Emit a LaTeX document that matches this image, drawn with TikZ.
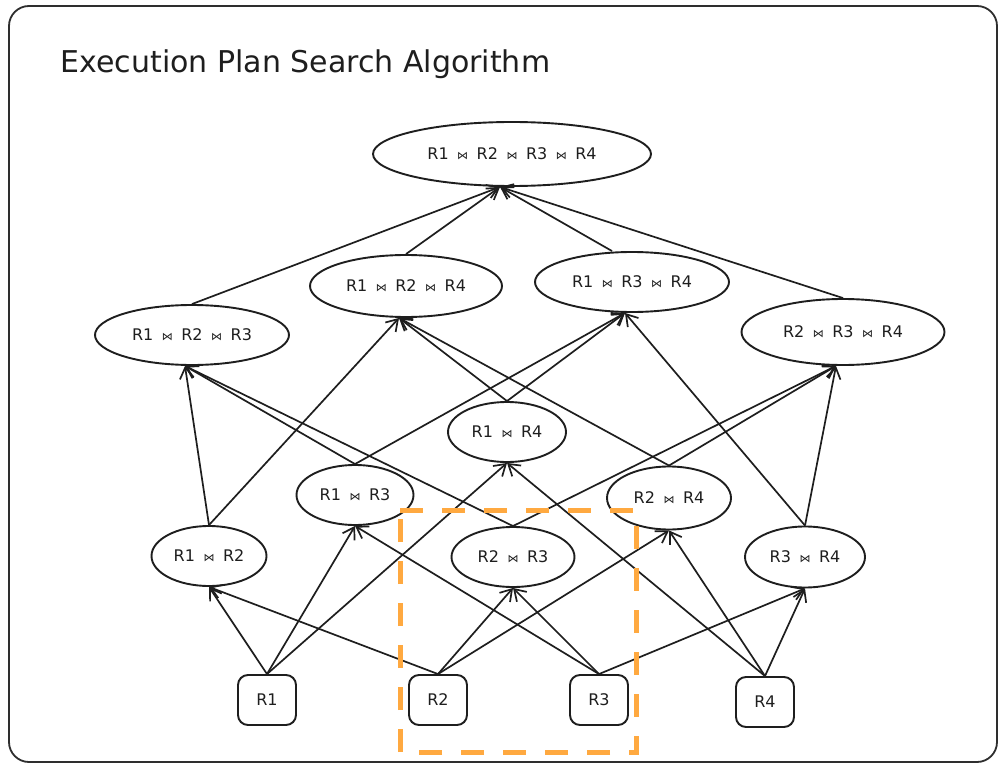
\documentclass[tikz,border=0pt]{standalone}
\usepackage{fontspec}
\setmainfont{DejaVu Sans}
\usetikzlibrary{shapes.geometric,arrows.meta}
\definecolor{ink}{HTML}{1E1E1E}
\definecolor{hl}{RGB}{255,169,64}
\definecolor{framec}{HTML}{2E2E2E}
\newcommand\jn{\hspace{8.5pt}{\fontsize{11}{11}\selectfont ⋈}\hspace{8.5pt}}
\begin{document}
\begin{tikzpicture}[x=1pt,y=-1pt,
  joinbox/.style={ellipse,draw=ink,line width=1.9pt,inner sep=0pt,
    font=\fontsize{16}{19}\selectfont,text=ink},
  relbox/.style={rectangle,rounded corners=10pt,draw=ink,line width=1.9pt,
    minimum width=58pt,minimum height=50pt,inner sep=0pt,
    font=\fontsize{16}{19}\selectfont,text=ink},
  conn/.style={draw=ink,line width=1.7pt,
    -{Straight Barb[length=11pt,width=14pt,line width=1.7pt]}},
  hlbox/.style={draw=hl,line width=5pt,dash pattern=on 23pt off 19pt},
  framebox/.style={draw=framec,line width=1.8pt,rounded corners=20pt}
]
\useasboundingbox (0,0) rectangle (999,765);
\fill[white] (0,0) rectangle (999,765);
\draw[framebox] (9,6) rectangle (997,762);

\node[anchor=base west,font=\fontsize{30}{35}\selectfont,text=ink] (title) at (57,73) {Execution Plan Search Algorithm};

% top
\node[joinbox,minimum width=278pt,minimum height=64pt] (top) at (512,154) {R1\jn R2\jn R3\jn R4};
% level 3
\node[joinbox,minimum width=194pt,minimum height=60pt] (a123) at (192,335) {R1\jn R2\jn R3};
\node[joinbox,minimum width=192pt,minimum height=62pt] (a124) at (406,286) {R1\jn R2\jn R4};
\node[joinbox,minimum width=194pt,minimum height=60pt] (a134) at (632,282) {R1\jn R3\jn R4};
\node[joinbox,minimum width=203pt,minimum height=66pt] (a234) at (843,332) {R2\jn R3\jn R4};
% level 2
\node[joinbox,minimum width=115pt,minimum height=60pt] (a12) at (209,556) {R1\jn R2};
\node[joinbox,minimum width=117pt,minimum height=60pt] (a13) at (355,495) {R1\jn R3};
\node[joinbox,minimum width=118pt,minimum height=60pt] (a14) at (507,432) {R1\jn R4};
\node[joinbox,minimum width=123pt,minimum height=60pt] (a23) at (513,557) {R2\jn R3};
\node[joinbox,minimum width=124pt,minimum height=63pt] (a24) at (669,498) {R2\jn R4};
\node[joinbox,minimum width=120pt,minimum height=61pt] (a34) at (805,557) {R3\jn R4};
% level 1
\node[relbox] (r1) at (267,700) {R1};
\node[relbox] (r2) at (438,700) {R2};
\node[relbox] (r3) at (599,700) {R3};
\node[relbox] (r4) at (765,702) {R4};

% edges level 1 -> 2
\foreach \s/\t in {r1/a12,r1/a13,r1/a14,r2/a12,r2/a23,r2/a24,r3/a13,r3/a23,r3/a34,r4/a14,r4/a24,r4/a34}
  \draw[conn] (\s.north) -- (\t.south);
% edges level 2 -> 3
\foreach \s/\t in {a12/a123,a12/a124,a13/a123,a13/a134,a14/a124,a14/a134,a23/a123,a23/a234,a24/a124,a24/a234,a34/a134,a34/a234}
  \draw[conn] (\s.north) -- ([xshift=-7pt]\t.south);
% edges level 3 -> top
\draw[conn] (a123.north) -- ([xshift=-12pt]top.south);
\draw[conn] (a124.north) -- ([xshift=-12pt]top.south);
\draw[conn] ([xshift=-20pt]a134.north) -- ([xshift=-12pt]top.south);
\draw[conn] (a234.north) -- ([xshift=-12pt]top.south);

% highlight
\draw[hlbox] (400,510) -- (636,510) -- (636,752) -- (400,752) -- cycle;
\end{tikzpicture}
\end{document}
